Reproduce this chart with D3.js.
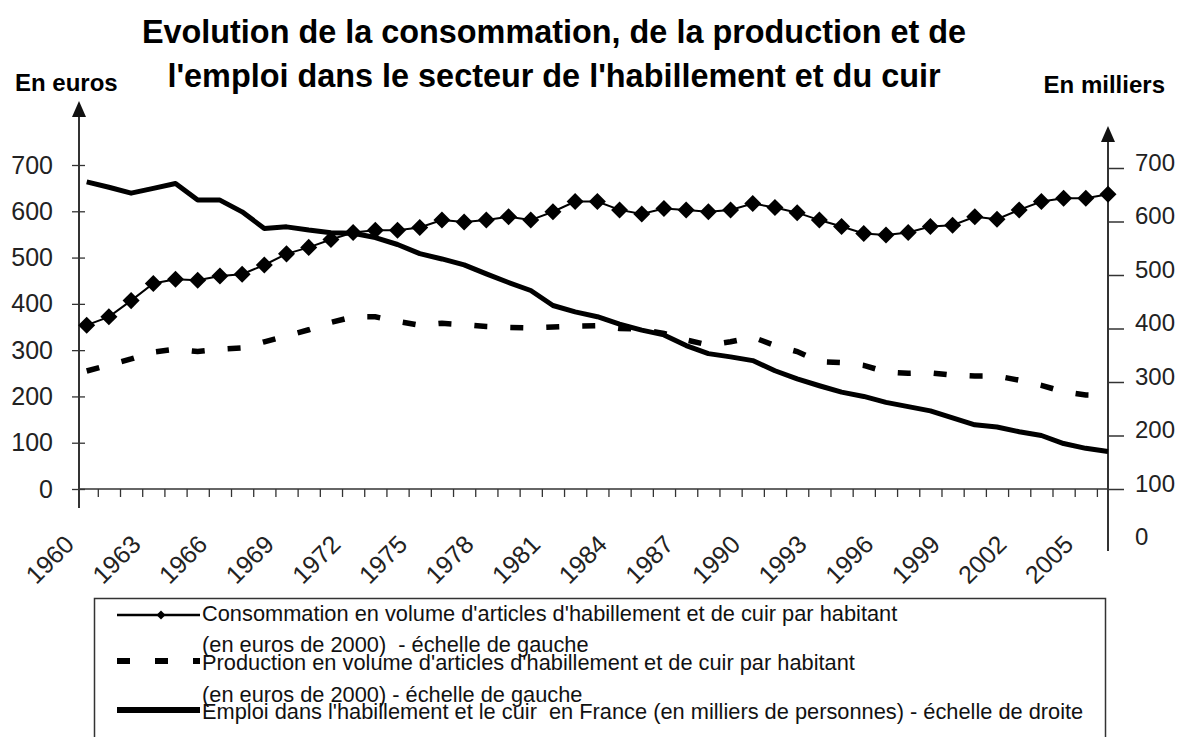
<!DOCTYPE html>
<html>
<head>
<meta charset="utf-8">
<script src="https://cdn.jsdelivr.net/npm/d3@7"></script>
<style>
  body { margin: 0; background: #fff; }
  text { font-family: "Liberation Sans", Arial, sans-serif; }
  text.leg { white-space: pre; }
</style>
</head>
<body>
<div id="chart"></div>
<script>
// categories
const years = [1960,1961,1962,1963,1964,1965,1966,1967,1968,1969,
               1970,1971,1972,1973,1974,1975,1976,1977,1978,1979,
               1980,1981,1982,1983,1984,1985,1986,1987,1988,1989,
               1990,1991,1992,1993,1994,1995,1996,1997,1998,1999,
               2000,2001,2002,2003,2004,2005,2006];
// consommation par habitant (euros de 2000) - left scale
const consommation = [354,372,407,444,453,451,460,464,484,508,
                      522,539,554,559,559,565,581,577,581,588,
                      581,599,621,621,603,594,606,603,599,603,
                      617,608,597,581,567,552,549,554,567,570,
                      588,583,603,621,628,628,637];
// production par habitant (euros de 2000) - left scale
const production = [255,268,281,296,302,297,302,305,318,331,
                    344,360,372,372,362,354,358,355,351,349,
                    348,350,352,353,347,345,336,322,311,318,
                    328,310,297,275,273,267,253,250,251,246,
                    244,244,235,224,210,203,202];
// emploi (milliers de personnes) - right scale
const emploi = [674,664,653,662,671,640,640,618,587,590,
                584,579,578,570,557,540,530,519,502,486,
                471,443,431,422,408,397,388,368,353,347,
                340,321,306,293,281,273,262,254,246,233,
                220,216,207,200,185,176,170];

const yearLabels = [1960,1963,1966,1969,1972,1975,1978,1981,1984,1987,1990,1993,1996,1999,2002,2005];
const euroTicks = [0,100,200,300,400,500,600,700];
const milliersTicks = [0,100,200,300,400,500,600,700];

const titleLines = ["Evolution de la consommation, de la production et de",
                    "l'emploi dans le secteur de l'habillement et du cuir"];
const legendLines = ["Consommation en volume d'articles d'habillement et de cuir par habitant",
                     "(en euros de 2000)  - échelle de gauche",
                     "Production en volume d'articles d'habillement et de cuir par habitant",
                     "(en euros de 2000) - échelle de gauche",
                     "Emploi dans l'habillement et le cuir  en France (en milliers de personnes) - échelle de droite"];

const width = 1179, height = 737;
const axisColor = "#333";
const svg = d3.select("#chart").append("svg")
    .attr("width", width).attr("height", height);

const x = d3.scaleLinear().domain([1960, 2006]).range([86.7, 1108]);
const yL = d3.scaleLinear().domain([0, 700]).range([489, 165]);
const yR = d3.scaleLinear().domain([100, 700]).range([489, 168]);
const leftX = 79, rightX = x(2006), baseY = yL(0);

// title
svg.selectAll("text.title").data(titleLines).enter().append("text")
    .attr("class", "title")
    .attr("x", 554).attr("y", (d, i) => 43 + i * 44)
    .attr("text-anchor", "middle")
    .attr("font-size", 32.4).attr("font-weight", "bold").attr("fill", "#000")
    .text(d => d);

svg.append("text").attr("x", 15).attr("y", 91)
    .attr("font-size", 24).attr("font-weight", "bold").text("En euros");
svg.append("text").attr("x", 1165).attr("y", 93).attr("text-anchor", "end")
    .attr("font-size", 24).attr("font-weight", "bold").text("En milliers");

// x axis: ticks between the years
const xAxis = d3.axisBottom(x)
    .tickValues(years.slice(0, -1).map(v => v + 0.5))
    .tickSize(8).tickFormat("");
const gx = svg.append("g").attr("transform", "translate(0," + baseY + ")").call(xAxis);
gx.select(".domain").remove();
gx.selectAll("line").attr("stroke", axisColor).attr("stroke-width", 1.3);
svg.append("line").attr("x1", leftX).attr("x2", rightX).attr("y1", baseY).attr("y2", baseY)
    .attr("stroke", axisColor).attr("stroke-width", 1.5);

svg.selectAll("text.year").data(yearLabels).enter().append("text")
    .attr("class", "year")
    .attr("transform", d => "translate(" + (x(d) - 11) + "," + (baseY + 57) + ") rotate(-45)")
    .attr("text-anchor", "end")
    .attr("font-size", 25).attr("fill", "#222")
    .text(d => d);

// left axis
const gl = svg.append("g").attr("transform", "translate(" + leftX + ",0)")
    .call(d3.axisLeft(yL).tickValues(euroTicks).tickSizeInner(7).tickSizeOuter(0).tickPadding(19));
gl.select(".domain").remove();
gl.selectAll(".tick line").attr("x1", 6).attr("stroke", axisColor).attr("stroke-width", 1.3);
gl.selectAll(".tick text").attr("font-size", 25).attr("fill", "#222")
    .attr("font-family", "Liberation Sans, Arial, sans-serif");
svg.append("line").attr("x1", leftX).attr("x2", leftX).attr("y1", 112).attr("y2", 508)
    .attr("stroke", axisColor).attr("stroke-width", 2);
svg.append("path")
    .attr("d", "M" + leftX + ",101L" + (leftX - 7) + ",117L" + (leftX + 7) + ",117Z")
    .attr("fill", "#111");

// right axis
const gr = svg.append("g").attr("transform", "translate(" + rightX + ",0)")
    .call(d3.axisRight(yR).tickValues(milliersTicks).tickSizeInner(16).tickSizeOuter(0).tickPadding(11));
gr.select(".domain").remove();
gr.selectAll(".tick line").attr("stroke", axisColor).attr("stroke-width", 1.5)
    .filter(d => d === 0).remove();
gr.selectAll(".tick text").attr("font-size", 24).attr("fill", "#222").attr("dy", "0.1em")
    .attr("font-family", "Liberation Sans, Arial, sans-serif");
svg.append("line").attr("x1", rightX).attr("x2", rightX).attr("y1", 137).attr("y2", 551)
    .attr("stroke", axisColor).attr("stroke-width", 2);
svg.append("path")
    .attr("d", "M" + rightX + ",126L" + (rightX - 7) + ",142L" + (rightX + 7) + ",142Z")
    .attr("fill", "#111");

// series
const lineL = d3.line().x((d, i) => x(years[i])).y(d => yL(d));
const lineR = d3.line().x((d, i) => x(years[i])).y(d => yR(d));

svg.append("path").datum(emploi).attr("d", lineR)
    .attr("fill", "none").attr("stroke", "#000").attr("stroke-width", 5)
    .attr("stroke-linejoin", "round");
svg.append("path").datum(production).attr("d", lineL)
    .attr("fill", "none").attr("stroke", "#000").attr("stroke-width", 5.5)
    .attr("stroke-dasharray", "13,23");
svg.append("path").datum(consommation).attr("d", lineL)
    .attr("fill", "none").attr("stroke", "#000").attr("stroke-width", 2);
svg.selectAll("path.diamond").data(consommation).enter().append("path")
    .attr("class", "diamond")
    .attr("d", d3.symbol(d3.symbolSquare, 145))
    .attr("transform", (d, i) => "translate(" + x(years[i]) + "," + yL(d) + ") rotate(45)")
    .attr("fill", "#000");

// legend
svg.append("rect").attr("x", 94.5).attr("y", 598.5).attr("width", 1011).attr("height", 160)
    .attr("fill", "none").attr("stroke", axisColor).attr("stroke-width", 1.5);
const lg = svg.append("g");
lg.append("line").attr("x1", 117).attr("x2", 200).attr("y1", 615).attr("y2", 615)
    .attr("stroke", "#000").attr("stroke-width", 2.5);
lg.append("path").attr("d", d3.symbol(d3.symbolSquare, 40))
    .attr("transform", "translate(161,615) rotate(45)").attr("fill", "#000");
lg.append("line").attr("x1", 117).attr("x2", 200).attr("y1", 661).attr("y2", 661)
    .attr("stroke", "#000").attr("stroke-width", 6).attr("stroke-dasharray", "13,25");
lg.append("line").attr("x1", 117).attr("x2", 200).attr("y1", 710).attr("y2", 710)
    .attr("stroke", "#000").attr("stroke-width", 6);

const legendY = [621, 652, 670, 702, 719];
const lt = lg.selectAll("text.leg").data(legendLines).enter().append("text")
    .attr("class", "leg")
    .attr("font-size", 22.5).attr("fill", "#111")
    .attr("font-family", "Liberation Sans Narrow, Arial Narrow, Liberation Sans, Arial, sans-serif")
    .text(d => d);
const natural = lt.filter((d, i) => i === 4).node().getComputedTextLength();
const squeeze = 882 / natural;
lt.attr("transform", (d, i) => "translate(202," + legendY[i] + ") scale(" + squeeze + ",1)");
</script>
</body>
</html>
